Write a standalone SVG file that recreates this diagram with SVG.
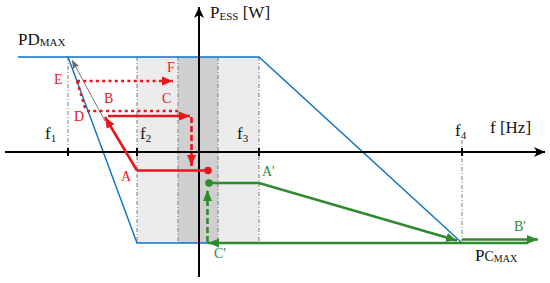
<svg xmlns="http://www.w3.org/2000/svg" width="550" height="283" viewBox="0 0 550 283">
<defs>
<style>
text{font-family:"Liberation Serif","Times New Roman",serif;}
.lab{font-size:17px;fill:#111;}
.sub{font-size:11px;}
.red{fill:#e8161d;font-size:14px;}
.grn{fill:#2f8a2f;font-size:14px;}
.dd{stroke:#7a7a7a;stroke-width:1;stroke-dasharray:4 2 1 2;fill:none;}
.blue{stroke:#0a72c4;stroke-width:1.4;fill:none;}
.ax{stroke:#000;stroke-width:2;fill:none;}
.rs{stroke:#e8161d;stroke-width:2.6;fill:none;}
.rd{stroke:#e8161d;stroke-width:2.6;fill:none;stroke-dasharray:3 3.3;}
.rdash{stroke:#e8161d;stroke-width:2.6;fill:none;stroke-dasharray:6 3;}
.gs{stroke:#2f8a2f;stroke-width:2.6;fill:none;}
.gdash{stroke:#2f8a2f;stroke-width:2.6;fill:none;stroke-dasharray:6 3;}
</style>
<marker id="ak" markerUnits="userSpaceOnUse" markerWidth="12" markerHeight="12" refX="11" refY="6" orient="auto"><path d="M0,1 L11,6 L0,11 L3,6 Z" fill="#000"/></marker>
<marker id="ar" markerUnits="userSpaceOnUse" markerWidth="12" markerHeight="10" refX="11" refY="5" orient="auto"><path d="M0,0.5 L11,5 L0,9.5 Z" fill="#e8161d"/></marker>
<marker id="ag" markerUnits="userSpaceOnUse" markerWidth="12" markerHeight="10" refX="11" refY="5" orient="auto"><path d="M0,0.5 L11,5 L0,9.5 Z" fill="#2f8a2f"/></marker>
<marker id="agr" markerUnits="userSpaceOnUse" markerWidth="10" markerHeight="8" refX="9" refY="4" orient="auto"><path d="M0,0.5 L9,4 L0,7.5 L2,4 Z" fill="#666"/></marker>
</defs>
<rect width="550" height="283" fill="#fff"/>
<g id="bands">
<rect x="137" y="57" width="122" height="186" fill="#ececec"/>
<rect x="178" y="57" width="40" height="186" fill="#cfcfcf"/>
<line class="dd" x1="68" y1="57" x2="68" y2="152"/>
<line class="dd" x1="137" y1="57" x2="137" y2="243"/>
<line class="dd" x1="178" y1="57" x2="178" y2="243"/>
<line class="dd" x1="218" y1="57" x2="218" y2="243"/>
<line class="dd" x1="259" y1="57" x2="259" y2="243"/>
<line class="dd" x1="462" y1="140" x2="462" y2="241"/>
</g>
<g id="limits">
<polyline class="blue" points="18,57 259,57 461,242"/>
<polyline class="blue" points="68,57 137,243 210,243"/>
</g>
<g id="axes">
<line class="ax" x1="5" y1="152" x2="545" y2="152" marker-end="url(#ak)"/>
<line class="ax" x1="199" y1="277" x2="199" y2="7" marker-end="url(#ak)"/>
<g stroke="#000" stroke-width="2">
<line x1="68" y1="148" x2="68" y2="156"/>
<line x1="137" y1="148" x2="137" y2="156"/>
<line x1="259" y1="148" x2="259" y2="156"/>
<line x1="462" y1="148" x2="462" y2="156"/>
</g>
</g>
<g id="connectors">
<line x1="105" y1="121" x2="72" y2="60" stroke="#666" stroke-width="0.9" marker-end="url(#agr)"/>
<line class="rd" x1="77" y1="81" x2="173" y2="81" marker-end="url(#ar)"/>
<line class="rd" x1="77" y1="81" x2="86" y2="111"/>
<line class="rd" x1="87" y1="111" x2="178" y2="111"/>
<line class="rs" x1="137" y1="170.5" x2="105" y2="117" marker-end="url(#ar)"/>
<line class="rs" x1="108" y1="116" x2="190" y2="116" marker-end="url(#ar)"/>
<line class="rdash" x1="191.5" y1="117" x2="191.5" y2="166" marker-end="url(#ar)"/>
<line class="rs" x1="137" y1="170.5" x2="207" y2="170.5"/>
<circle cx="208" cy="170.5" r="3.8" fill="#e8161d"/>
<circle cx="209" cy="183" r="3.8" fill="#2f8a2f"/>
<polyline class="gs" points="209,183 259,183 457,240.5" marker-end="url(#ag)"/>
<line class="gs" x1="462" y1="239.5" x2="538" y2="239.5" marker-end="url(#ag)"/>
<line class="gs" x1="528" y1="243" x2="208" y2="243" marker-end="url(#ag)"/>
<line class="gdash" x1="207.5" y1="242" x2="207.5" y2="190" marker-end="url(#ag)"/>
</g>
<g id="labels">
<text class="lab" x="18" y="45">PD<tspan class="sub" font-size="10" dy="1">MAX</tspan></text>
<text class="lab" x="210" y="18">P<tspan class="sub" dy="2">ESS</tspan><tspan dy="-2"> [W]</tspan></text>
<text class="lab" x="475" y="261">P<tspan font-size="14">C</tspan><tspan font-size="10" dy="1">MAX</tspan></text>
<text class="lab" x="490" y="133">f [Hz]</text>
<text class="lab" x="45" y="139">f<tspan class="sub" dy="3">1</tspan></text>
<text class="lab" x="140" y="139">f<tspan class="sub" dy="3">2</tspan></text>
<text class="lab" x="237" y="139">f<tspan class="sub" dy="3">3</tspan></text>
<text class="lab" x="455" y="136">f<tspan class="sub" dy="3">4</tspan></text>
<text class="red" x="54" y="84">E</text>
<text class="red" x="167" y="72">F</text>
<text class="red" x="104" y="103">B</text>
<text class="red" x="162" y="103">C</text>
<text class="red" x="74" y="121">D</text>
<text class="red" x="121" y="181">A</text>
<text class="grn" x="262" y="176">A'</text>
<text class="grn" x="514" y="231">B'</text>
<text class="grn" x="214" y="258">C'</text>
</g>
</svg>
